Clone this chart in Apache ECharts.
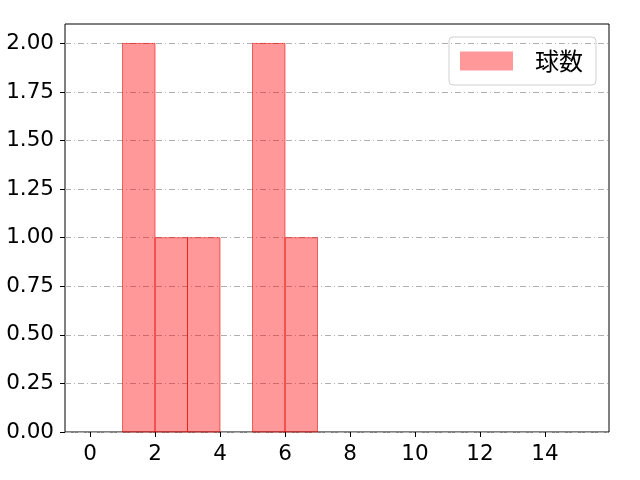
<!DOCTYPE html>
<html><head><meta charset="utf-8">
<script src="https://cdn.jsdelivr.net/npm/echarts@6/dist/echarts.min.js"></script>
<style>html,body{margin:0;padding:0;background:#fff}#c{width:640px;height:480px}</style>
</head><body><div id="c"></div>
<script>
const binStarts = [1, 2, 3, 5, 6];
const binEnds = [2, 3, 4, 6, 7];
const counts = [2, 1, 1, 2, 1];
const xTicks = [0, 2, 4, 6, 8, 10, 12, 14];
const yTicks = [0, 0.25, 0.5, 0.75, 1.0, 1.25, 1.5, 1.75, 2.0];
const seriesName = '球数';

const data = binStarts.map((s, i) => [s, binEnds[i], counts[i]]);
const font = "'DejaVu Sans',sans-serif";
const chart = echarts.init(document.getElementById('c'));
chart.setOption({
  animation: false,
  backgroundColor: '#fff',
  grid: {left: 65, right: 31, top: 24, bottom: 48, show: true, borderColor: '#000', borderWidth: 1},
  legend: {
    data: [{name: seriesName, icon: 'rect'}],
    right: 44, top: 37, orient: 'vertical',
    itemWidth: 53, itemHeight: 19, itemGap: 8,
    padding: [12, 13, 12, 11],
    borderColor: '#d0d0d0', borderWidth: 1, borderRadius: 4,
    textStyle: {fontSize: 24, fontFamily: "'Noto Sans CJK JP',sans-serif", color: '#000', padding: [0, 0, 0, 17]}
  },
  xAxis: {
    type: 'value', min: -0.77, max: 15.97,
    splitLine: {show: false},
    axisLine: {show: false, onZero: false},
    axisTick: {show: true, length: 5, lineStyle: {color: '#000'}, customValues: xTicks},
    axisLabel: {fontSize: 21.5, color: '#000', fontFamily: font, margin: 11, customValues: xTicks}
  },
  yAxis: {
    type: 'value', min: 0, max: 2.1,
    axisLine: {show: false, onZero: false},
    axisTick: {show: true, length: 5, lineStyle: {color: '#000'}, customValues: yTicks},
    axisLabel: {fontSize: 21.5, color: '#000', fontFamily: font, margin: 11, customValues: yTicks,
      formatter: v => v.toFixed(2)},
    splitLine: {show: true, lineStyle: {color: '#b0b0b0', width: 1, type: [6, 3, 1, 3]}}
  },
  series: [{
    name: seriesName,
    type: 'custom',
    itemStyle: {color: 'rgba(255,0,0,0.4)'},
    encode: {x: [0, 1], y: 2},
    renderItem: function (params, api) {
      const p0 = api.coord([api.value(0), 0]);
      const p1 = api.coord([api.value(1), api.value(2)]);
      return {
        type: 'rect',
        shape: {x: p0[0], y: p1[1], width: p1[0] - p0[0], height: p0[1] - p1[1]},
        style: {fill: 'rgba(255,0,0,0.4)', stroke: 'rgba(230,0,0,0.55)', lineWidth: 1}
      };
    },
    data: data
  }]
});
</script></body></html>
